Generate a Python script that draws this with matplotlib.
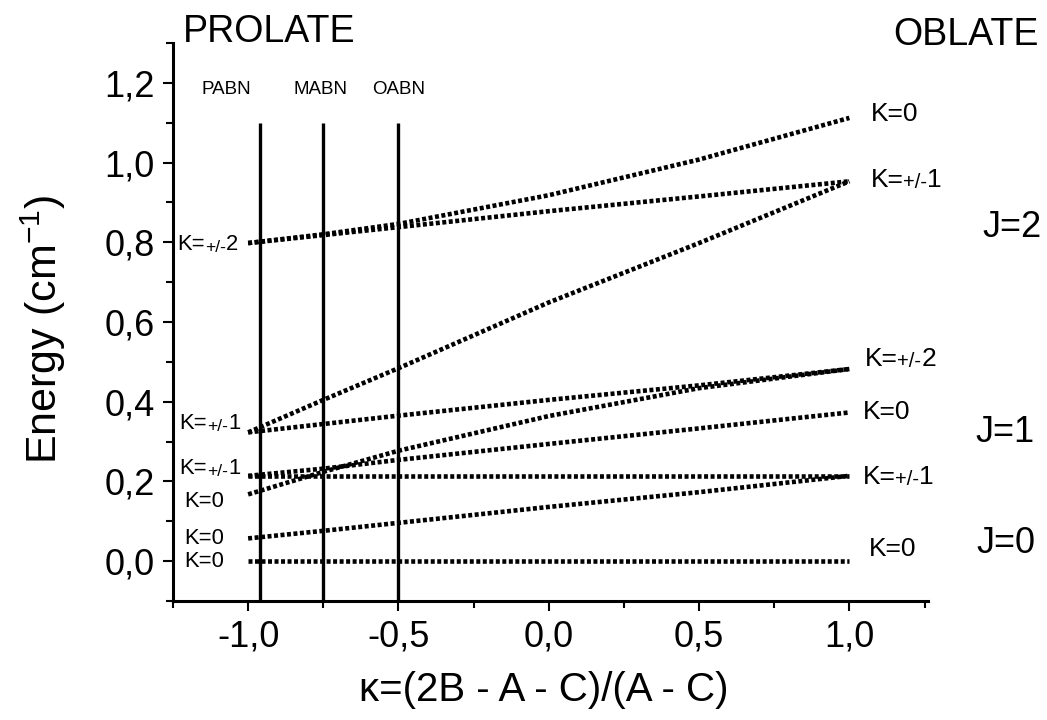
import numpy as np
import matplotlib.pyplot as plt

plt.rcParams['font.family'] = ['Liberation Sans', 'DejaVu Sans']
plt.rcParams['mathtext.default'] = 'regular'

# asymmetry parameter along the x axis
kappa = [-1.0, -0.75, -0.5, 0.0, 0.5, 1.0]

# energy levels (cm-1)
J0_K0 = [0.0, 0.0, 0.0, 0.0, 0.0, 0.0]
J1_a = [0.057, 0.076, 0.096, 0.136, 0.173, 0.214]
J1_b = [0.214, 0.214, 0.214, 0.214, 0.214, 0.214]
J1_c = [0.214, 0.232, 0.254, 0.294, 0.333, 0.373]
J2_a = [0.1675, 0.224, 0.277, 0.364, 0.434, 0.482]
J2_b = [0.323, 0.344, 0.365, 0.4045, 0.441, 0.482]
J2_c = [0.323, 0.4045, 0.484, 0.649, 0.798, 0.953]
J2_d = [0.798, 0.818, 0.838, 0.878, 0.915, 0.953]
J2_e = [0.798, 0.820, 0.846, 0.918, 1.0075, 1.112]
levels = [J0_K0, J1_a, J1_b, J1_c, J2_a, J2_b, J2_c, J2_d, J2_e]

# molecules marked by vertical lines
molecules = ['PABN', 'MABN', 'OABN']
molecule_kappa = [-0.96, -0.75, -0.5]
molecule_label_x = [-1.074, -0.76, -0.5]

xtick_vals = [-1.0, -0.5, 0.0, 0.5, 1.0]
xtick_labels = ['-1,0', '-0,5', '0,0', '0,5', '1,0']
ytick_vals = [0.0, 0.2, 0.4, 0.6, 0.8, 1.0, 1.2]
ytick_labels = ['0,0', '0,2', '0,4', '0,6', '0,8', '1,0', '1,2']

# K labels: (x, y, sign, digit)
left_k = [(-1.236, 0.795, '+/-', '2'),
          (-1.228, 0.345, '+/-', '1'),
          (-1.228, 0.233, '+/-', '1'),
          (-1.212, 0.150, '', '0'),
          (-1.212, 0.056, '', '0'),
          (-1.212, 0.000, '', '0')]
right_k = [(1.072, 1.122, '', '0'),
           (1.070, 0.956, '+/-', '1'),
           (1.050, 0.508, '+/-', '2'),
           (1.044, 0.374, '', '0'),
           (1.044, 0.211, '+/-', '1'),
           (1.066, 0.031, '', '0')]
j_labels = [(1.444, 0.837, 'J=2'), (1.418, 0.322, 'J=1'), (1.421, 0.045, 'J=0')]

fig = plt.figure(figsize=(10.47, 7.2), dpi=100)
ax = fig.add_axes([0.1652, 0.1653, 0.7207, 0.775])

for e in levels:
    ax.plot(kappa, e, color='black', lw=3.3, linestyle=(0, (0.87, 0.55)),
            dash_capstyle='butt')

ax.vlines(molecule_kappa, -0.1, 1.1, color='black', lw=2.4)
for name, x in zip(molecules, molecule_label_x):
    ax.text(x, 1.184, name, fontsize=13.5, ha='center', va='center')


def k_label(x, y, sign, digit, big, small):
    if not sign:
        ax.text(x, y, 'K=' + digit, fontsize=big, ha='left', va='center')
        return
    t = ax.text(x, y, 'K=', fontsize=big, ha='left', va='center')
    t = ax.annotate(sign, xy=(1, 0), xycoords=t, fontsize=small,
                    ha='left', va='bottom')
    ax.annotate(digit, xy=(1, 0), xycoords=t, fontsize=big,
                ha='left', va='bottom')


for x, y, s, d in left_k:
    k_label(x, y, s, d, 15.8, 12.5)
for x, y, s, d in right_k:
    k_label(x, y, s, d, 19, 14.5)
for x, y, s in j_labels:
    ax.text(x, y, s, fontsize=26, ha='left', va='center')

ax.text(-1.218, 1.302, 'PROLATE', fontsize=27, ha='left', va='baseline')
ax.text(1.145, 1.295, 'OBLATE', fontsize=27, ha='left', va='baseline')

ax.set_xlim(-1.25, 1.26)
ax.set_ylim(-0.1, 1.3)
ax.set_xticks(xtick_vals)
ax.set_xticklabels(xtick_labels)
ax.set_xticks(np.arange(-1.25, 1.26, 0.5), minor=True)
ax.set_yticks(ytick_vals)
ax.set_yticklabels(ytick_labels)
ax.set_yticks(np.arange(-0.1, 1.31, 0.2), minor=True)

for side in ['top', 'right']:
    ax.spines[side].set_visible(False)
for side in ['left', 'bottom']:
    ax.spines[side].set_linewidth(2.2)

ax.tick_params(which='major', direction='out', length=7, width=1.5,
               labelsize=26, pad=6)
ax.tick_params(which='minor', direction='out', length=4.7, width=1.5)

ax.set_xlabel('κ=(2B - A - C)/(A - C)', fontsize=29)
ax.xaxis.label.set_va('center')
ax.xaxis.set_label_coords(0.491, -0.1595)
ax.set_ylabel('Energy (cm$^{-1}$)', fontsize=31)
ax.yaxis.label.set_va('center')
ax.yaxis.set_label_coords(-0.172, 0.4875)

fig.savefig('out.png', dpi=100)
